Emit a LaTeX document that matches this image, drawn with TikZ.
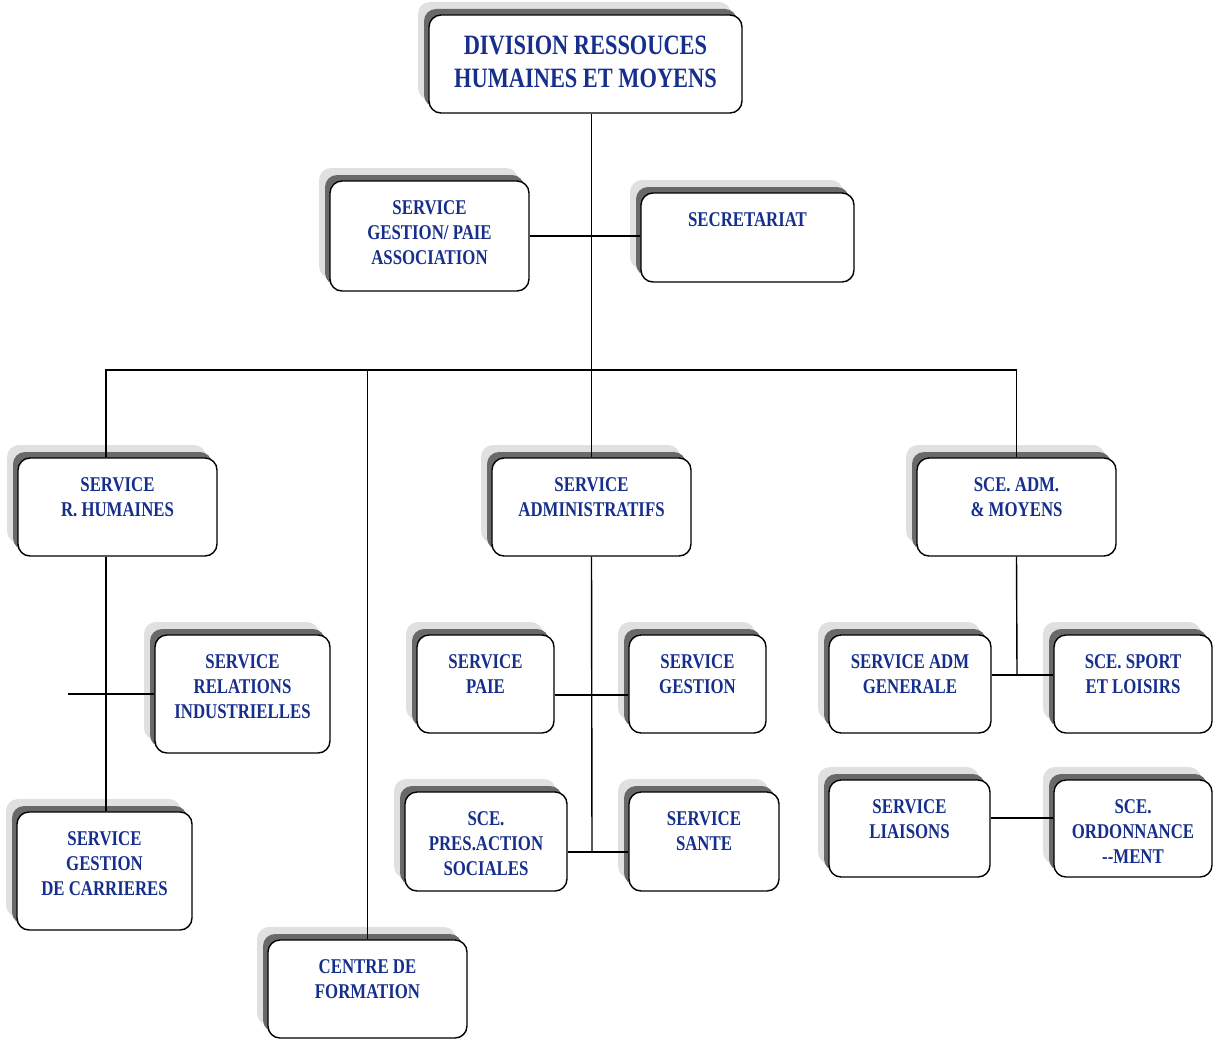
\documentclass[tikz,border=0pt]{standalone}
\usepackage{fontspec}
\setmainfont{Liberation Serif}[FakeStretch=0.8]
\definecolor{txtblue}{RGB}{22,46,140}
\definecolor{shdark}{RGB}{105,105,105}
\definecolor{shlight}{RGB}{224,224,224}
\tikzset{
 box/.style={draw=black, line width=1.4pt, rounded corners=12pt, fill=white, inner sep=0pt},
 lbl/.style={text=txtblue, font=\bfseries\fontsize{21}{25}\selectfont, align=center, anchor=north, inner sep=0pt},
 titlelbl/.style={lbl, font=\bfseries\fontsize{28}{33}\selectfont},
 conn/.style={line width=1.4pt, draw=black},
 shlightsty/.style={fill=shlight, rounded corners=12pt},
 shdarksty/.style={fill=shdark, rounded corners=12pt}
}
% name, x1, y1, x2, y2, text, textoffset, labelstyle
\newcommand\orgbox[8]{%
 \fill[shlightsty] (#2-11,#3-13) rectangle (#4-11,#5-13);
 \fill[shdarksty] (#2-5,#3-6) rectangle (#4-5,#5-6);
 \node[box, minimum width={(#4-#2)*1pt}, minimum height={(#5-#3)*1pt}] (#1) at ({(#2+#4)/2},{(#3+#5)/2}) {};
 \node[#8] (#1-t) at ({(#2+#4)/2},{#3+#7}) {#6};
}
\begin{document}
\begin{tikzpicture}[x=1pt,y=-1pt]
\useasboundingbox (0,0) rectangle (1214,1041);
\fill[white] (0,0) rectangle (1214,1041);
\orgbox{div}{429}{15}{742}{113}{DIVISION RESSOUCES\\HUMAINES ET MOYENS}{21}{titlelbl}
\orgbox{gp}{330}{181}{529}{291}{SERVICE\\GESTION/ PAIE\\ASSOCIATION}{19}{lbl}
\orgbox{sec}{641}{193}{854}{282}{SECRETARIAT}{19}{lbl}
\orgbox{rh}{18}{458}{217}{556}{SERVICE\\R. HUMAINES}{19}{lbl}
\orgbox{sa}{492}{458}{691}{556}{SERVICE\\ADMINISTRATIFS}{19}{lbl}
\orgbox{sam}{917}{458}{1116}{556}{SCE. ADM.\\\& MOYENS}{19}{lbl}
\orgbox{sri}{155}{635}{330}{753}{SERVICE\\RELATIONS\\INDUSTRIELLES}{19}{lbl}
\orgbox{sgc}{17}{812}{192}{930}{SERVICE\\GESTION\\DE CARRIERES}{19}{lbl}
\orgbox{cf}{268}{940}{467}{1038}{CENTRE DE\\FORMATION}{19}{lbl}
\orgbox{sp}{417}{635}{554}{733}{SERVICE\\PAIE}{19}{lbl}
\orgbox{sg}{629}{635}{766}{733}{SERVICE\\GESTION}{19}{lbl}
\orgbox{spa}{405}{792}{567}{891}{SCE.\\PRES.ACTION\\SOCIALES}{19}{lbl}
\orgbox{ss}{629}{792}{779}{891}{SERVICE\\SANTE}{19}{lbl}
\orgbox{sag}{829}{635}{991}{733}{SERVICE ADM\\GENERALE}{19}{lbl}
\orgbox{ssl}{1054}{635}{1212}{733}{SCE. SPORT\\ET LOISIRS}{19}{lbl}
\orgbox{sl}{829}{780}{990}{877}{SERVICE\\LIAISONS}{19}{lbl}
\orgbox{so}{1054}{780}{1212}{877}{SCE.\\ORDONNANCE\\{-}{-}MENT}{19}{lbl}
% connectors
\coordinate (bl) at (106,370);
\coordinate (stub) at (68,694);
\coordinate (a1) at (592,695);
\coordinate (a2) at (592,852);
\coordinate (m1) at (1017,675);
\coordinate (m2) at (1010,818);
\draw[conn] (div.south -| sa.north) -- (sa.north);
\draw[conn] (gp.east) -- (gp.east -| sec.west);
\draw[conn] (bl |- rh.north) -- (bl) -- (bl -| sam.north) -- (sam.north);
\draw[conn] (cf.north |- bl) -- (cf.north);
\draw[conn] (bl |- rh.south) -- (bl |- sgc.north);
\draw[conn] (stub) -- (stub -| sri.west);
\draw[conn] (sa.south) -- (a2);
\draw[conn] (a1 -| sp.east) -- (a1 -| sg.west);
\draw[conn] (a2 -| spa.east) -- (a2 -| ss.west);
\draw[conn] (sam.south) -- (m1);
\draw[conn] (m1 -| sag.east) -- (m1 -| ssl.west);
\draw[conn] (m2 -| sl.east) -- (m2 -| so.west);
\end{tikzpicture}
\end{document}
